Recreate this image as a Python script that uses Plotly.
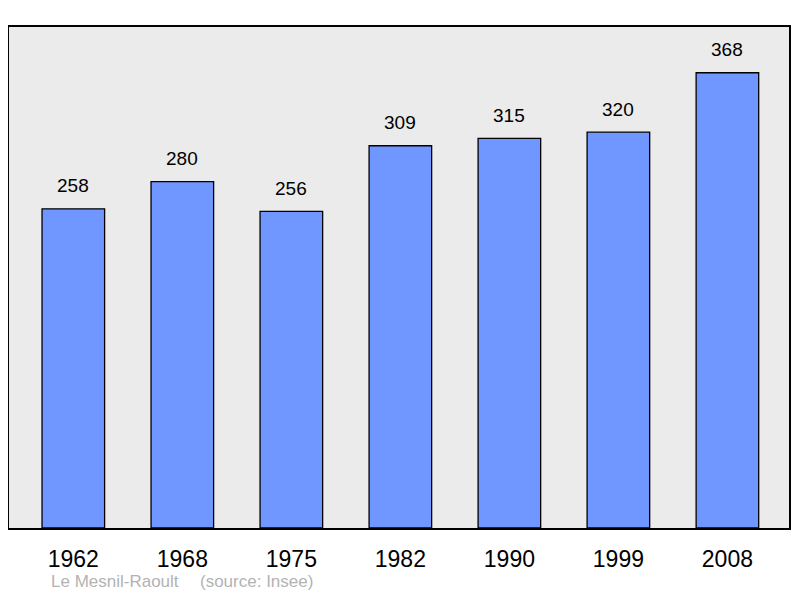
import plotly.graph_objects as go

# Population by census year
years = ['1962', '1968', '1975', '1982', '1990', '1999', '2008']
population = [258, 280, 256, 309, 315, 320, 368]

commune = 'Le Mesnil-Raoult'
source = '(source: Insee)'

fig = go.Figure()
fig.add_trace(go.Bar(
    x=years,
    y=population,
    width=0.574,
    marker=dict(color='#7096ff', line=dict(color='black', width=1.3)),
    hoverinfo='x+y'
    )
)

# value labels above the bars (category index as x)
for i, val in enumerate(population):
    fig.add_annotation(
        x=i, y=val, text=str(val), showarrow=False,
        yanchor='middle', yshift=23,
        font=dict(size=19, color='black', family='Liberation Sans, Arial')
    )

fig.add_annotation(
    xref='paper', yref='paper', x=0.0512, y=-0.106,
    xanchor='left', yanchor='middle', text=commune, showarrow=False,
    font=dict(size=17, color='#b3b3b3', family='Liberation Sans, Arial')
)
fig.add_annotation(
    xref='paper', yref='paper', x=0.2417, y=-0.106,
    xanchor='left', yanchor='middle', text=source, showarrow=False,
    font=dict(size=17, color='#b3b3b3', family='Liberation Sans, Arial')
)

# page body has an 8px margin, so margins are set relative to that
fig.update_layout(
    margin=dict(l=1, r=1, t=19, b=62),
    paper_bgcolor='white',
    plot_bgcolor='#ebebeb',
    showlegend=False,
    font=dict(family='Liberation Sans, Arial', size=23, color='black'),
    bargap=0.43
    )
fig.update_xaxes(
    type='category',
    range=[-0.59, 6.565], showline=True, mirror=True,
    linecolor='black', linewidth=2, showgrid=False,
    ticks='', tickfont=dict(size=23), ticklabelstandoff=9
    )
fig.update_yaxes(
    range=[0, 405], showline=True, mirror=True,
    linecolor='black', linewidth=2, showgrid=False,
    zeroline=False, showticklabels=False, ticks=''
    )
fig.write_html('out.html')
